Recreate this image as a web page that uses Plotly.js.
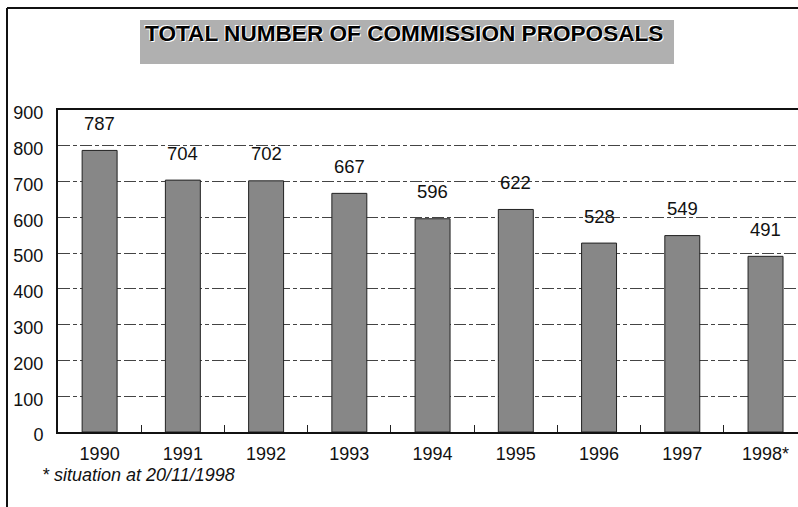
<!DOCTYPE html>
<html>
<head>
<meta charset="utf-8">
<script src="https://cdn.plot.ly/plotly-3.0.1.min.js"></script>
<style>html,body{margin:0;padding:0;background:#fff;}#chart{width:798px;height:507px;}</style>
</head>
<body>
<div id="chart"></div>
<script>
var years = ["1990","1991","1992","1993","1994","1995","1996","1997","1998*"];
var proposals = [787, 704, 702, 667, 596, 622, 528, 549, 491];
var yTicks = [0,100,200,300,400,500,600,700,800,900];
var titleText = "TOTAL NUMBER OF COMMISSION PROPOSALS";
var footnote = "* situation at 20/11/1998";

var W = 798, H = 507, L = 58, T = 110, B = 75;
var PW = W - L, PH = H - T - B;
function px(x){ return (x - L) / PW; }
function py(y){ return (H - B - y) / PH; }

var font = "Liberation Sans, Arial, sans-serif";

var annotations = proposals.map(function(v, i){
  return {x: i, y: v, xref: "x", yref: "y", text: String(v), showarrow: false,
          yshift: 27, font: {family: font, size: 18.5, color: "#111"}};
});
annotations.push({xref: "paper", yref: "paper", x: px(403.5), y: py(33), text: titleText,
  showarrow: false, xanchor: "center", yanchor: "middle",
  font: {family: font, size: 22.6, color: "#000", weight: "bold", shadow: "1px 1px 0 #fff, -1px -1px 0 #fff"}});
annotations.push({xref: "paper", yref: "paper", x: px(40), y: py(475), text: "<i>" + footnote + "</i>",
  showarrow: false, xanchor: "left", yanchor: "middle",
  font: {family: font, size: 18, color: "#111"}});

var shapes = [
  {type: "rect", xref: "paper", yref: "paper", x0: px(140), x1: px(674), y0: py(64), y1: py(20),
   fillcolor: "#b0b0b0", line: {width: 0}, layer: "below"},
  {type: "line", xref: "paper", yref: "paper", x0: px(7), x1: px(798), y0: py(8), y1: py(8),
   line: {color: "#111", width: 2}},
  {type: "line", xref: "paper", yref: "paper", x0: px(7), x1: px(7), y0: py(8), y1: py(507),
   line: {color: "#111", width: 2}}
];

var trace = {type: "bar", x: years, y: proposals, width: 0.42,
  marker: {color: "#878787", line: {color: "#222", width: 1}}, hoverinfo: "skip"};

var layout = {
  width: W, height: H,
  margin: {l: L, r: 0, t: T, b: B, pad: 0},
  paper_bgcolor: "#fff", plot_bgcolor: "#fff",
  showlegend: false,
  font: {family: font, size: 18, color: "#111"},
  xaxis: {type: "category", range: [-0.5, 8.39], tickson: "boundaries", ticks: "inside", ticklen: 7,
    tickcolor: "#222", showline: true, linecolor: "#111", linewidth: 2, mirror: true,
    ticklabelstandoff: 4,
    showgrid: false, tickfont: {family: font, size: 18, color: "#111"}, fixedrange: true},
  yaxis: {range: [0, 900], tickmode: "array", tickvals: yTicks, ticktext: yTicks.map(String),
    showline: true, linecolor: "#111", linewidth: 2, ticks: "", ticklabelstandoff: 9,
    ticklabelshift: 3,
    showgrid: true, gridcolor: "#444", gridwidth: 1, griddash: "12px,3px,4px,3px",
    zeroline: false, tickfont: {family: font, size: 18, color: "#111"}, fixedrange: true},
  annotations: annotations,
  shapes: shapes
};

Plotly.newPlot("chart", [trace], layout, {displayModeBar: false, staticPlot: true});
</script>
</body>
</html>
